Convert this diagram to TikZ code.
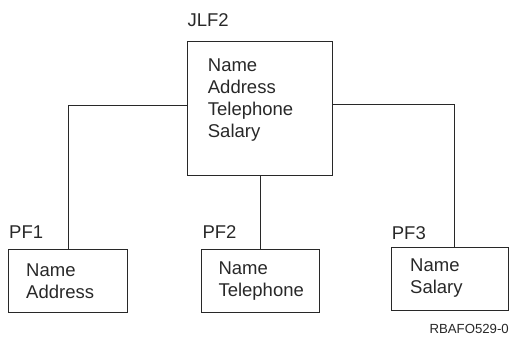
\documentclass[tikz,border=0pt]{standalone}
\usepackage{fontspec}
\setmainfont{Liberation Sans}
\usepackage{tikz}
\usetikzlibrary{calc}
\definecolor{linegray}{RGB}{40,40,40}
\newcommand{\widthbox}{117.7pt}
\newcommand{\heightbox}{63pt}
\tikzset{
    common/.style={anchor=north west, draw=linegray, line width=0.8pt, rectangle},
    file/.style={common, minimum width=\widthbox, minimum height=\heightbox},
    fields/.style={anchor=north west, align=left, inner sep=0pt, text=linegray,
        font=\fontsize{18.5}{22}\selectfont},
    filename/.style={anchor=base west, inner sep=0pt, text=linegray,
        font=\fontsize{18.5}{22}\selectfont},
    link/.style={draw=linegray, line width=0.8pt}
}

\begin{document}
\begin{tikzpicture}[x=1pt, y=-1pt]
    \useasboundingbox (0,0) rectangle (509,337);

    % join logical file
    \node[common, minimum width=145.6pt, minimum height=134.3pt] (jlf2) at (186.7,40.7) {};
    \node[filename] (jlf2name) at (187.3,26.5) {JLF2};
    \node[fields] (jlf2fields) at (207.7,58.3) {Name\\Address\\Telephone\\Salary};

    % physical files
    \node[file, minimum width=118.4pt] (pf1) at (8.3,249.3) {};
    \node[filename] (pf1name) at (9,238.3) {PF1};
    \node[fields] (pf1fields) at (26,263.4) {Name\\Address};

    \node[file] (pf2) at (201.3,249.3) {};
    \node[filename] (pf2name) at (202.3,238.3) {PF2};
    \node[fields] (pf2fields) at (218.3,261.8) {Name\\Telephone};

    \node[file, minimum width=117pt] (pf3) at (391,246.7) {};
    \node[filename] (pf3name) at (391.7,239.3) {PF3};
    \node[fields] (pf3fields) at (410,258.5) {Name\\Salary};

    \node[anchor=base east, inner sep=0pt, text=linegray, font=\fontsize{13.2}{15}\selectfont]
        (figid) at (509,333.3) {RBAFO529-0};

    \path[link] ([yshift=2.5pt]jlf2.west) -| (pf1.north);
    \path[link] ([xshift=0.5pt]jlf2.south) -- ([xshift=0.5pt]jlf2.south |- pf2.north);
    \path[link] ([yshift=4pt]jlf2.east) -| ([xshift=4.8pt]pf3.north);
\end{tikzpicture}
\end{document}
